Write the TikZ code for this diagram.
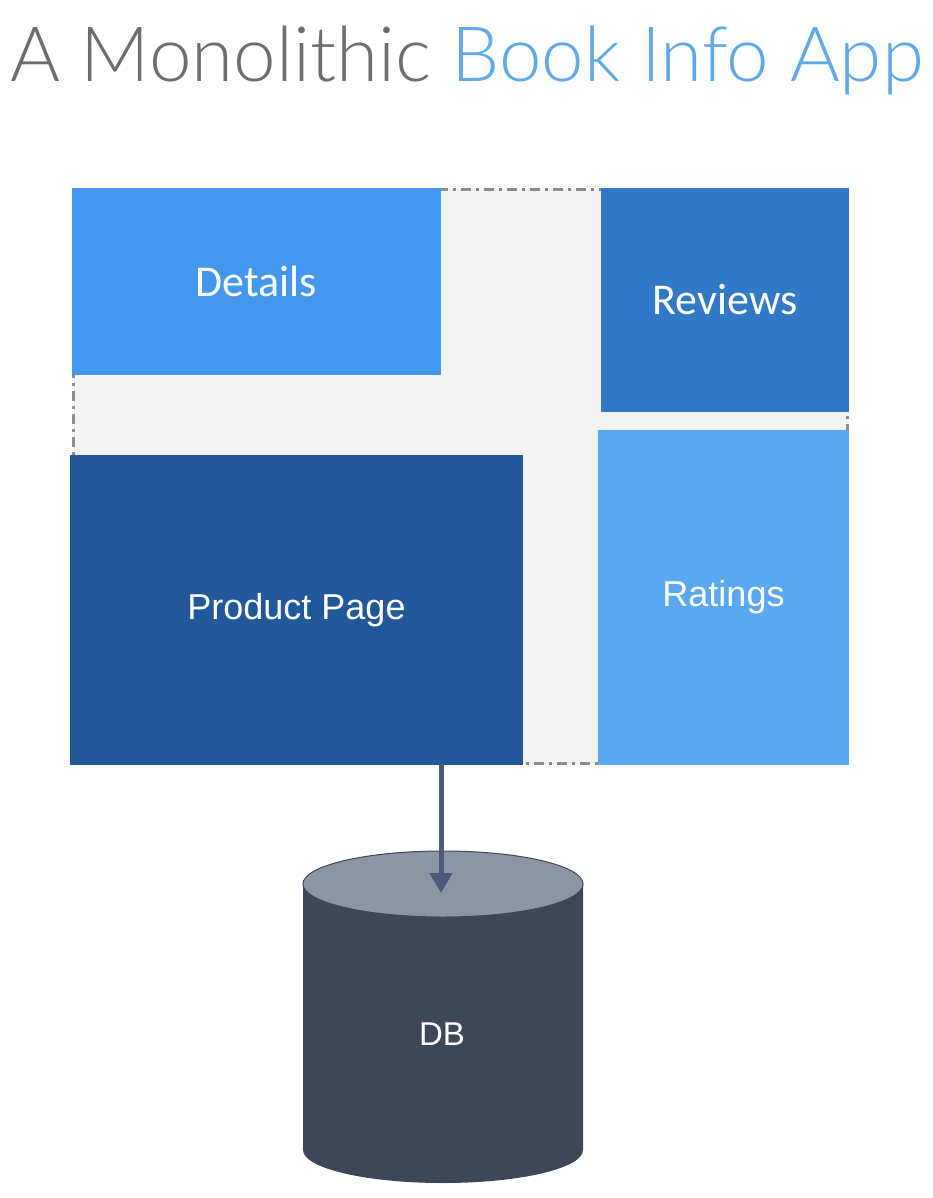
\documentclass[tikz,border=0pt]{standalone}
\usepackage{fontspec}
\setmainfont{Liberation Sans}
\newfontfamily\titlefont{Lato Light}
\newfontfamily\calfont{Carlito}
\newfontfamily\robfont{Liberation Sans}
\usetikzlibrary{arrows.meta}
\definecolor{titlegray}{HTML}{6E6E6E}
\definecolor{titleblue}{HTML}{62A9E9}
\definecolor{bggray}{HTML}{F3F3F3}
\definecolor{bordergray}{HTML}{8C8C8C}
\definecolor{detailsblue}{HTML}{4398EE}
\definecolor{reviewsblue}{HTML}{3179C7}
\definecolor{ratingsblue}{HTML}{5BA8F2}
\definecolor{productblue}{HTML}{22589A}
\definecolor{arrowcol}{HTML}{4A5A78}
\definecolor{dbbody}{HTML}{3D4758}
\definecolor{dbtopcol}{HTML}{8E95A2}
\tikzset{
  svcbox/.style={rectangle, inner sep=0pt, outer sep=0pt, anchor=north west, text=white},
  calstyle/.style={font=\calfont\fontsize{44}{50}\selectfont},
  robstyle/.style={font=\robfont\fontsize{36}{42}\selectfont},
  container/.style={rectangle, inner sep=0pt, outer sep=0pt, anchor=north west, fill=bggray, draw=bordergray, line width=3pt, dash pattern=on 10pt off 5pt on 3pt off 5pt},
  flow/.style={draw=arrowcol, line width=5pt, -{Triangle[width=22pt,length=20pt]}}
}
\begin{document}
\begin{tikzpicture}[x=1pt, y=-1pt]
\useasboundingbox (0,0) rectangle (932,1198);
% title
\node[anchor=base west, inner sep=0pt, font=\titlefont\fontsize{76.3}{90}\selectfont] (title) at (10,82)
  {\textcolor{titlegray}{A Monolithic} \textcolor{titleblue}{Book Info App}};
% container (border kept just inside the outer edge)
\node[container, minimum width=774pt, minimum height=574pt] (bg) at (73.5,189.5) {};
% boxes
\node[svcbox, fill=detailsblue, minimum width=369pt, minimum height=187pt, calstyle] (details) at (72,188) {Details};
\node[svcbox, fill=reviewsblue, minimum width=248pt, minimum height=224pt, calstyle] (reviews) at (601,188) {Reviews};
\node[svcbox, fill=ratingsblue, minimum width=251pt, minimum height=335pt, robstyle] (ratings) at (598,430) {\raisebox{-3pt}{Ratings}};
\node[svcbox, fill=productblue, minimum width=453pt, minimum height=310pt, robstyle] (product) at (70,455) {\raisebox{-3pt}{Product Page}};
% database cylinder
\fill[dbbody] (303,884) -- (303,1150) arc[start angle=180, end angle=360, x radius=140, y radius=-33] -- (583,884) -- cycle;
\fill[dbtopcol, draw=dbbody, line width=1pt] (443,884) ellipse[x radius=140, y radius=33];
\node[text=white, font=\robfont\fontsize{33}{40}\selectfont, inner sep=0pt] (db) at (442,1034) {DB};
\coordinate (dbtop) at (441,893);
% connector
\draw[flow] (bg.south -| dbtop) -- (dbtop);
\end{tikzpicture}
\end{document}
